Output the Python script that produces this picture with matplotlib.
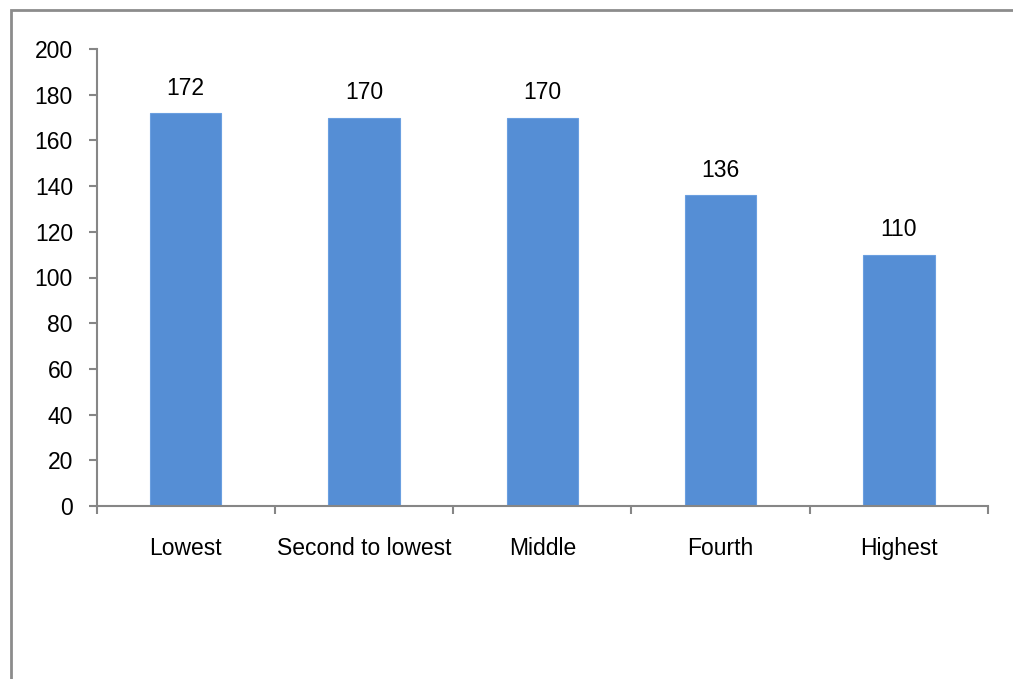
import matplotlib
matplotlib.use("Agg")
import matplotlib.pyplot as plt
from matplotlib.patches import Rectangle
from matplotlib import font_manager

# data
categories = ["Lowest", "Second to lowest", "Middle", "Fourth", "Highest"]
values = [172, 170, 170, 136, 110]
yticks = [0, 20, 40, 60, 80, 100, 120, 140, 160, 180, 200]

names = {f.name for f in font_manager.fontManager.ttflist}
fam = "Liberation Sans Narrow" if "Liberation Sans Narrow" in names else "Liberation Sans"
plt.rcParams["font.family"] = [fam, "DejaVu Sans"]
FS = 16.5

W, H = 1013, 679
fig = plt.figure(figsize=(W / 100, H / 100), dpi=100)

# outer frame (only left and top visible in the crop)
fig.add_artist(Rectangle((10.5 / W, -0.1), 1.2, 1 - 10.5 / H + 0.1,
                         transform=fig.transFigure, fill=False,
                         edgecolor="#8c8c8c", lw=2))

ax = fig.add_axes([96.5 / W, 1 - 506 / H, (988 - 96.5) / W, (506 - 49) / H])

x = list(range(len(categories)))
ax.bar(x, values, width=0.4, color="#558ed5", edgecolor="#6a9fe0", lw=0.8, zorder=2)

for xi, v in zip(x, values):
    ax.annotate(str(v), (xi, v), xytext=(0, 9.5), textcoords="offset points",
                ha="center", va="bottom", fontsize=FS)

ax.set_xlim(-0.5, len(categories) - 0.5)
ax.set_ylim(0, 200)
ax.set_yticks(yticks)
ax.set_yticklabels([str(t) for t in yticks], fontsize=FS)

# category ticks at boundaries, labels at centers
ax.set_xticks([i - 0.5 for i in range(len(categories) + 1)])
ax.set_xticklabels([])
ax.set_xticks(x, minor=True)
ax.set_xticklabels(categories, minor=True, fontsize=FS)
ax.tick_params(axis="x", which="minor", length=0, pad=22.5)
ax.tick_params(axis="x", which="major", length=6, direction="out", color="#868686", width=1.5)
ax.tick_params(axis="y", length=6, direction="out", color="#868686", width=1.5, pad=11)

for s in ["top", "right"]:
    ax.spines[s].set_visible(False)
for s in ["left", "bottom"]:
    ax.spines[s].set_color("#868686")
    ax.spines[s].set_linewidth(1.5)

fig.savefig("out.png", dpi=100)
